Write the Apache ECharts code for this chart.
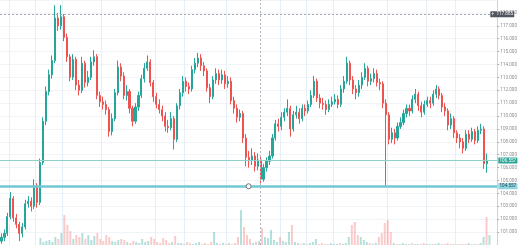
<!DOCTYPE html>
<html>
<head>
<meta charset="utf-8">
<script src="https://cdn.jsdelivr.net/npm/echarts@6/dist/echarts.min.js"></script>
<style>html,body{margin:0;padding:0;background:#fff;}#c{width:520px;height:245px;}</style>
</head>
<body>
<div id="c"></div>
<script>
const opens = [100.3,100.6,100.9,102.2,103.6,102.1,101.6,100.9,101.4,103.2,103.4,103.0,104.6,103.3,106.4,109.6,111.9,113.2,114.3,117.6,117.0,117.7,116.1,114.6,113.0,114.4,112.4,112.0,114.1,112.6,113.0,114.2,114.6,111.6,111.1,110.9,110.5,108.8,109.8,111.8,113.8,113.1,111.6,111.9,110.6,109.6,110.7,111.6,112.9,113.7,114.2,112.6,111.5,110.9,110.5,110.0,109.2,109.1,109.8,108.2,110.8,111.8,112.7,112.3,112.1,113.6,114.1,114.5,113.9,113.5,112.2,111.5,112.8,113.3,112.8,113.2,112.5,112.7,111.2,110.6,109.9,110.2,108.3,106.8,106.6,106.9,106.1,106.6,105.1,106.0,106.5,106.9,108.3,109.4,109.2,109.9,110.3,110.6,109.0,110.1,110.3,109.8,110.6,110.4,110.9,111.6,112.7,111.4,111.0,110.9,110.5,110.9,111.1,111.3,110.9,112.1,112.7,114.1,112.8,112.1,111.8,112.4,113.0,113.7,112.7,112.9,113.3,112.6,112.5,111.0,110.1,108.2,108.7,108.3,109.2,109.5,110.2,110.6,110.4,111.3,111.7,110.8,110.3,110.9,111.2,111.0,111.7,112.1,111.6,110.7,110.4,109.3,109.8,108.7,108.3,108.0,107.5,108.6,108.2,108.8,108.1,108.9,109.0,106.3];
const closes = [100.6,100.9,102.2,103.6,102.1,101.6,100.9,101.4,103.2,103.4,103.0,104.6,103.3,106.4,109.6,111.9,113.2,114.3,117.6,117.0,117.7,116.1,114.6,113.0,114.4,112.4,112.0,114.1,112.6,113.0,114.2,114.6,111.6,111.1,110.9,110.5,108.8,109.8,111.8,113.8,113.1,111.6,111.9,110.6,109.6,110.7,111.6,112.9,113.7,114.2,112.6,111.5,110.9,110.5,110.0,109.2,109.1,109.8,108.2,110.8,111.8,112.7,112.3,112.1,113.6,114.1,114.5,113.9,113.5,112.2,111.5,112.8,113.3,112.8,113.2,112.5,112.7,111.2,110.6,109.9,110.2,108.3,106.8,106.6,106.9,106.1,106.6,105.1,106.0,106.5,106.9,108.3,109.4,109.2,109.9,110.3,110.6,109.0,110.1,110.3,109.8,110.6,110.4,110.9,111.6,112.7,111.4,111.0,110.9,110.5,110.9,111.1,111.3,110.9,112.1,112.7,114.1,112.8,112.1,111.8,112.4,113.0,113.7,112.7,112.9,113.3,112.6,112.5,111.0,110.1,108.2,108.7,108.3,109.2,109.5,110.2,110.6,110.4,111.3,111.7,110.8,110.3,110.9,111.2,111.0,111.7,112.1,111.6,110.7,110.4,109.3,109.8,108.7,108.3,108.0,107.5,108.6,108.2,108.8,108.1,108.9,109.0,106.3,106.56];
const highs = [100.9,101.2,102.5,104.1,103.8,102.4,101.8,101.7,103.5,103.8,103.7,105.1,104.8,106.7,109.9,112.3,113.6,114.7,118.6,118.0,118.6,117.9,116.4,114.8,114.8,114.6,112.8,114.6,114.3,113.5,114.6,115.1,114.8,111.9,111.5,111.2,110.7,110.2,112.1,114.3,114.1,113.4,112.4,112.1,110.8,111.0,111.9,113.2,114.1,114.7,114.4,112.8,111.8,111.3,110.8,110.3,109.7,110.3,110.0,111.0,112.1,113.1,113.0,112.6,113.9,114.5,114.9,114.8,114.2,113.7,112.5,113.1,113.7,113.6,113.6,113.5,113.1,113.0,111.5,110.9,110.5,110.4,108.6,107.3,107.5,107.2,107.1,106.9,106.3,106.8,107.3,108.6,109.7,109.8,110.3,110.6,111.3,110.8,110.4,110.8,110.6,110.9,110.9,111.2,112.0,113.1,112.9,111.7,111.4,111.2,111.3,111.5,111.7,111.6,112.4,113.1,114.6,114.3,113.1,112.4,112.8,113.4,114.1,113.9,113.3,113.7,113.6,112.9,112.7,111.3,110.3,109.1,109.0,109.5,109.9,110.5,110.9,110.9,111.6,112.1,111.9,111.1,111.2,111.5,111.5,112.0,112.4,112.3,111.8,111.0,110.6,110.2,110.0,108.9,108.6,108.3,108.9,108.9,109.1,109.0,109.2,109.4,109.2,107.1];
const lows = [100.1,100.3,100.7,102.0,101.8,101.3,100.3,100.6,101.2,102.9,102.6,102.8,102.9,103.1,106.2,109.3,111.6,112.9,114.1,116.6,116.7,115.8,114.2,112.7,112.8,112.0,111.6,111.8,112.2,112.3,112.8,113.9,111.3,110.7,110.5,110.1,108.4,108.5,109.6,111.6,112.7,111.3,111.2,110.2,109.2,109.4,110.4,111.4,112.6,113.5,112.3,111.1,110.6,110.2,109.6,108.8,108.7,108.9,107.4,108.0,110.5,111.5,111.9,111.7,111.9,113.3,113.8,113.5,113.1,111.9,111.0,111.3,112.5,112.4,112.5,112.1,112.2,110.9,110.2,109.5,109.6,107.9,106.1,106.0,106.2,105.7,105.8,104.6,104.9,105.7,106.2,106.7,108.1,108.8,108.9,109.6,110.0,108.4,108.8,109.8,109.4,109.6,110.0,110.2,110.7,111.4,111.1,110.6,110.5,110.1,110.3,110.7,110.9,110.6,110.7,111.8,112.5,112.4,111.7,111.3,111.5,112.1,112.8,112.3,112.4,112.6,112.3,112.0,110.6,104.6,107.8,107.9,107.8,108.1,109.0,109.3,109.9,110.0,110.2,111.0,110.4,109.9,110.1,110.7,110.6,110.8,111.4,111.3,110.3,110.0,108.9,109.0,108.3,107.9,107.5,107.1,107.3,107.9,108.0,107.8,107.9,108.6,105.9,105.6];
const volumes = [0,0,0,0,0,0,0,0,0,0,0,0,0,
  7,3,4,5,3,8,6,12,30,20,14,6,10,8,12,6,10,5,9,12,6,4,10,8,4,3,5,6,5,
  3,2,4,3,
  2,6,3,4,
  8,6,3,2,7,5,2,3,9,2,
  2,1,3,2,1,2,3,1,2,1,
  3,13,2,1,2,1,2,1,2,8,
  35,18,10,6,2,3,4,17,8,7,
  15,5,3,8,4,3,13,20,3,2,
  1,2,1,2,3,6,1,2,1,1,
  2,1,1,2,1,2,8,20,23,10,
  8,5,3,2,1,2,8,12,22,25,
  13,2,1,1,2,1,1,2,1,1,
  1,2,1,1,1,1,2,1,1,2,
  1,1,1,1,1,1,2,1,1,1,
  2,8,28,10];
const emptySlots = 3;
const categories = opens.map((_, i) => 'c' + i).concat(Array.from({length: emptySlots}, (_, i) => 'e' + i));
const yTicks = { min: 100, max: 119, step: 1 };
const highMark = 117.885;
const lastPrice = 106.557;
const supportLevel = 104.557;
const supportAnchorIdx = 83;
const crossIdx = 87;
const timeGridIdx = [3,12,21,34,52,62,76,94,103,112,130,143,153];

const UP = '#26a69a', DOWN = '#ef5350';
const candleData = opens.map((o, i) => [o, closes[i], lows[i], highs[i]]);
const volData = volumes.map((v, i) => ({
  value: v,
  itemStyle: { color: closes[i] >= opens[i] ? 'rgba(38,166,154,0.35)' : 'rgba(239,83,80,0.3)' }
}));

const lblBase = { show: true, position: 'end', distance: 1, fontSize: 4.6, fontFamily: 'Roboto, sans-serif', padding: [0.6, 1.2, 0.4, 1.2], borderRadius: 0.5 };

const chart = echarts.init(document.getElementById('c'), null, { renderer: 'canvas' });
chart.setOption({
  animation: false,
  backgroundColor: '#ffffff',
  grid: [
    { left: 0, right: 20, top: -1, bottom: -1 },
    { left: 0, right: 20, bottom: 0, height: 40 }
  ],
  xAxis: [
    { type: 'category', data: categories, boundaryGap: true,
      axisLine: { show: false }, axisTick: { show: false }, axisLabel: { show: false },
      splitLine: { show: true, interval: (idx) => timeGridIdx.includes(idx), lineStyle: { color: '#e6eff5', width: 1 } } },
    { type: 'category', gridIndex: 1, data: categories, boundaryGap: true,
      axisLine: { show: false }, axisTick: { show: false }, axisLabel: { show: false }, splitLine: { show: false } }
  ],
  yAxis: [
    { type: 'value', position: 'right', min: yTicks.min, max: yTicks.max, interval: yTicks.step, scale: true,
      axisLine: { show: true, lineStyle: { color: '#cfd3d8', width: 1 } },
      axisTick: { show: true, length: 2, lineStyle: { color: '#b0b4b8' } },
      axisLabel: { show: true, fontSize: 4.6, color: '#8a8e93', margin: 3, fontFamily: 'Roboto, sans-serif',
        showMinLabel: false, showMaxLabel: false, formatter: (v) => v.toFixed(3) },
      splitLine: { show: true, lineStyle: { color: '#f0f3f7', width: 1 } } },
    { type: 'value', gridIndex: 1, min: 0, max: 40, show: false, splitLine: { show: false } }
  ],
  series: [
    { type: 'candlestick', xAxisIndex: 0, yAxisIndex: 0, data: candleData, barWidth: 1.6,
      itemStyle: { color: UP, color0: DOWN, borderColor: UP, borderColor0: DOWN, borderWidth: 1 },
      markLine: {
        silent: true, symbol: ['none', 'none'], animation: false,
        data: [
          { yAxis: highMark, lineStyle: { type: [2, 2], color: '#a6abb1', width: 1 },
            label: Object.assign({}, lblBase, { distance: -7, formatter: '+  ' + highMark.toFixed(3), backgroundColor: '#50555e', color: '#ffffff' }) },
          { yAxis: lastPrice, lineStyle: { type: 'solid', color: '#8fd0c8', width: 1 },
            label: Object.assign({}, lblBase, { formatter: lastPrice.toFixed(3), backgroundColor: '#2aa597', color: '#ffffff' }) },
          { yAxis: supportLevel, lineStyle: { type: 'solid', color: '#72c7d6', width: 2.5 },
            label: Object.assign({}, lblBase, { formatter: supportLevel.toFixed(3), backgroundColor: '#8fd4e1', color: '#1f3f4a' }) },
          { xAxis: crossIdx, lineStyle: { type: [2, 2], color: '#b3b7bc', width: 1 }, label: { show: false } }
        ]
      },
      markPoint: {
        silent: true,
        data: [{ coord: [supportAnchorIdx, supportLevel], symbol: 'circle', symbolSize: 5,
          itemStyle: { color: '#ffffff', borderColor: '#6d7278', borderWidth: 1 }, label: { show: false } }]
      }
    },
    { type: 'bar', xAxisIndex: 1, yAxisIndex: 1, data: volData, barWidth: 2 }
  ]
});
</script>
</body>
</html>
